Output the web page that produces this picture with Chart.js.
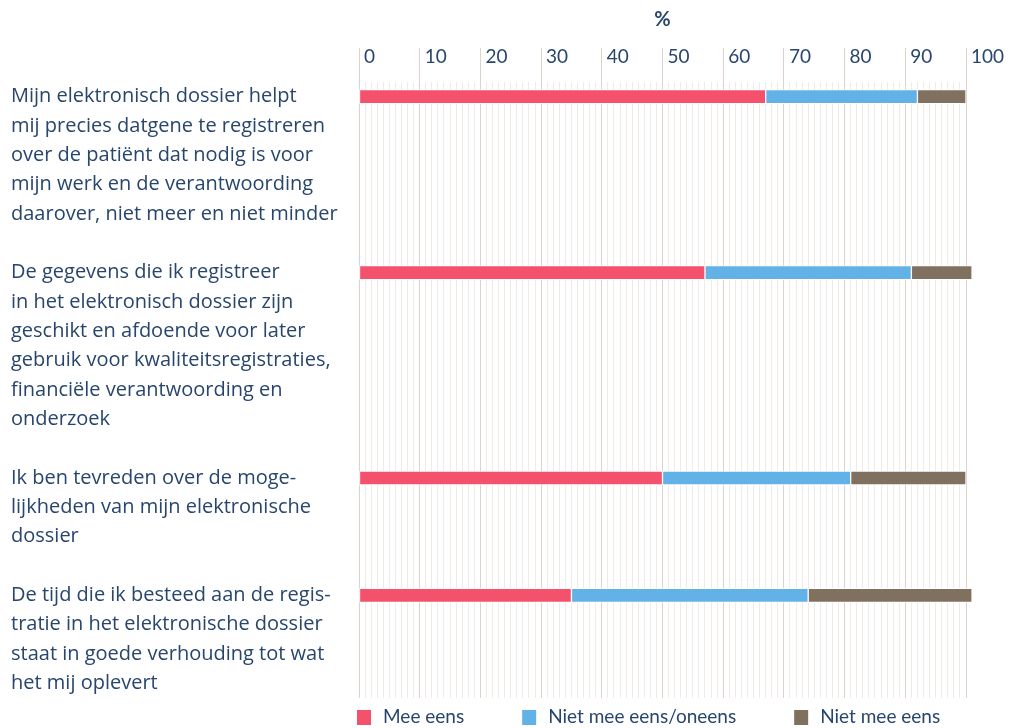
<!DOCTYPE html>
<html>
<head>
<meta charset="utf-8">
<title>Elektronisch dossier</title>
<script src="https://cdn.jsdelivr.net/npm/chart.js@4/dist/chart.umd.min.js"></script>
<style>
    html, body { margin: 0; padding: 0; background: #ffffff; }
    #wrap { width: 1020px; height: 728px; }
</style>
</head>
<body>
<div id="wrap"><canvas id="chart" width="1020" height="728"></canvas></div>
<script>

// stellingen, één regel per tekstregel zoals ze links van de balken staan
const stellingen = [
    ["Mijn elektronisch dossier helpt",
     "mij precies datgene te registreren",
     "over de patiënt dat nodig is voor",
     "mijn werk en de verantwoording",
     "daarover, niet meer en niet minder"],
    ["De gegevens die ik registreer",
     "in het elektronisch dossier zijn",
     "geschikt en afdoende voor later",
     "gebruik voor kwaliteitsregistraties,",
     "financiële verantwoording en",
     "onderzoek"],
    ["Ik ben tevreden over de moge-",
     "lijkheden van mijn elektronische",
     "dossier"],
    ["De tijd die ik besteed aan de regis-",
     "tratie in het elektronische dossier",
     "staat in goede verhouding tot wat",
     "het mij oplevert"]
];

const meeEens = [67, 57, 50, 35];
const neutraal = [25, 34, 31, 39];
const nietMeeEens = [8, 10, 19, 27];

const reeksNamen = ["Mee eens", "Niet mee eens/oneens", "Niet mee eens"];
const xLabels = [0, 10, 20, 30, 40, 50, 60, 70, 80, 90, 100];

const tekstKleur = "#28466d";
const kleuren = ["#f4526c", "#63b2e7", "#807060"];


// elke tekstregel wordt een rij op de y-as, met een lege rij tussen stellingen
const rijLabels = [];
const balkRij = [];
stellingen.forEach((regels, i) =>
{
    if (i > 0)
    {
        rijLabels.push("");
    }
    balkRij.push(rijLabels.length);
    regels.forEach(r => rijLabels.push(r));
});

function spreid(waarden)
{
    const rij = rijLabels.map(() => null);
    waarden.forEach((v, i) =>
    {
        rij[balkRij[i]] = v;
    });
    return rij;
}


const legendaPlugin = {
    id: "legenda",
    afterDraw(chart)
    {
        const ctx = chart.ctx;
        const y = chart.chartArea.bottom + 19;
        let x = chart.chartArea.left - 2;

        ctx.save();
        ctx.font = "19px Lato";
        ctx.textBaseline = "middle";
        ctx.textAlign = "left";
        chart.data.datasets.forEach(ds =>
        {
            ctx.fillStyle = ds.backgroundColor;
            ctx.fillRect(x, y - 7, 14, 15);
            ctx.fillStyle = tekstKleur;
            ctx.fillText(ds.label, x + 26, y);
            x += 26 + ctx.measureText(ds.label).width + 58;
        });
        ctx.restore();
    }
};


function generateBarChart(elem)
{
    try
    {
        const reeksen = [meeEens, neutraal, nietMeeEens];

        const dataChart = {
            labels: rijLabels,
            datasets: reeksen.map((waarden, i) => ({
                label: reeksNamen[i],
                data: spreid(waarden),
                backgroundColor: kleuren[i],
                borderColor: "rgba(255, 255, 255, 0.85)",
                borderWidth: 1,
                borderSkipped: false,
                barThickness: 14,
                clip: false
            }))
        };

        const config = {
            type: "bar",
            data: dataChart,
            plugins: [legendaPlugin],
            options: {
                indexAxis: "y",
                responsive: false,
                animation: false,
                layout: {
                    padding: {left: 11, right: 54, top: 0, bottom: 30}
                },
                plugins: {
                    legend: {display: false},
                    tooltip: {enabled: false}
                },
                scales: {
                    x: {
                        position: "top",
                        stacked: true,
                        min: 0,
                        max: 100,
                        border: {display: false},
                        grid: {
                            color: c => (c.tick && c.tick.value % 10 === 0) ? "#dcd3cc" : "#f0ebe7",
                            tickColor: c => (c.tick && c.tick.value % 10 === 0) ? "#dcd3cc" : "rgba(0,0,0,0)",
                            tickLength: 34,
                            lineWidth: 1
                        },
                        ticks: {
                            stepSize: 1,
                            autoSkip: false,
                            maxRotation: 0,
                            align: "start",
                            labelOffset: 5,
                            padding: -20,
                            color: tekstKleur,
                            font: {family: "Lato", size: 19},
                            callback: v => xLabels.includes(v) ? String(v) : ""
                        },
                        title: {
                            display: true,
                            text: "%",
                            color: tekstKleur,
                            font: {family: "Lato", size: 20, weight: "bold"},
                            padding: {top: 8, bottom: 0}
                        },
                        afterFit: scale =>
                        {
                            scale.height = 82;
                        }
                    },
                    y: {
                        stacked: true,
                        border: {display: false},
                        grid: {display: false},
                        ticks: {
                            autoSkip: false,
                            crossAlign: "far",
                            color: tekstKleur,
                            font: {family: "Open Sans", size: 20}
                        },
                        afterFit: scale =>
                        {
                            scale.width = 348;
                        }
                    }
                }
            }
        };

        const myChart = new Chart(elem, config);
        myChart.update();

        return true;
    }
    catch (e)
    {
        console.error(e.message);
    }

    return false;
}

Promise.all([
    document.fonts.load("19px Lato"),
    document.fonts.load("20px 'Open Sans'")
]).then(() =>
{
    generateBarChart(document.getElementById("chart"));
});
</script>
</body>
</html>
